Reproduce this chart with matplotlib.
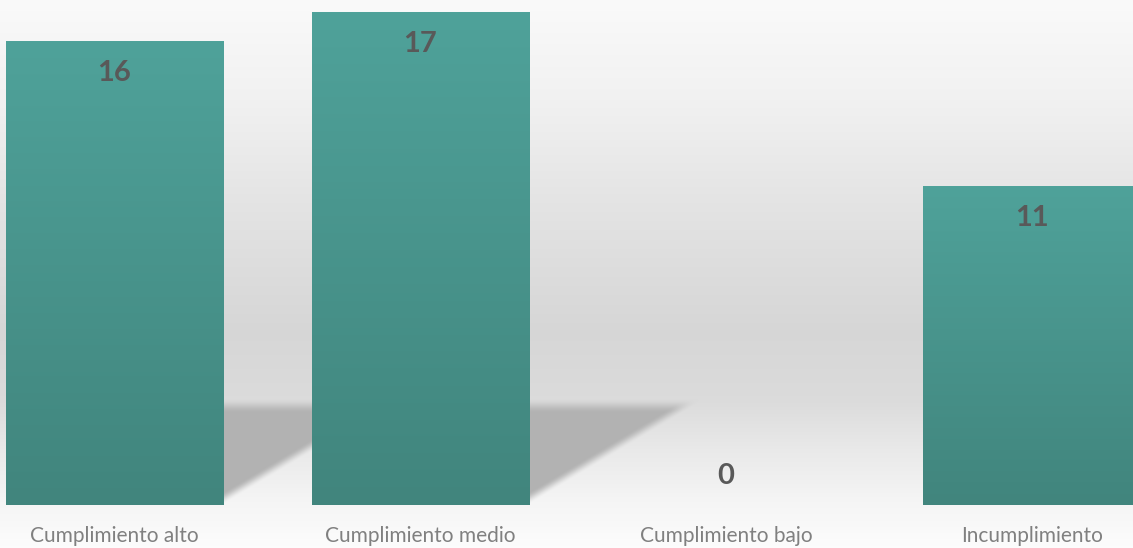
import numpy as np
import matplotlib.pyplot as plt
from matplotlib.colors import LinearSegmentedColormap

categories = ["Cumplimiento alto", "Cumplimiento medio", "Cumplimiento bajo", "Incumplimiento"]
values = [16, 17, 0, 11]

W, H, DPI = 1133, 548, 100
XLIM = (-0.3745, 3.3317)
YLIM = (-1.483, 17.414)
BAR_W = 0.71

fig = plt.figure(figsize=(W / DPI, H / DPI), dpi=DPI)
ax = fig.add_axes([0, 0, 1, 1])
ax.set_xlim(XLIM)
ax.set_ylim(YLIM)
ax.axis("off")

# background: light top, grey band, light floor
rows = np.arange(H)
stops_px = [0, 100, 200, 330, 400, 450, 500, 548]
stops_v = [0.98, 0.945, 0.895, 0.84, 0.86, 0.915, 0.96, 0.99]
shade = np.interp(rows, stops_px, stops_v)
bg = np.repeat(shade[:, None], W, axis=1)

# pixel grid in data coords
xs = XLIM[0] + (np.arange(W) + 0.5) / W * (XLIM[1] - XLIM[0])
ys = YLIM[1] - (rows + 0.5) / H * (YLIM[1] - YLIM[0])
X, Y = np.meshgrid(xs, ys)


def smooth(t):
    t = np.clip(t, 0, 1)
    return t * t * (3 - 2 * t)


# floor shadow behind each bar (slanted to the right)
sh_h, sh_dx = 3.68, 0.585
slope = sh_dx / sh_h
alpha = np.zeros_like(bg)
for i, v in enumerate(values):
    if v <= 0:
        continue
    x0, x1 = i - BAR_W / 2, i + BAR_W / 2
    left = x0 + slope * Y
    right = x1 + slope * Y
    a = (smooth(Y / 0.05) * smooth((sh_h - Y) / 0.5)
         * smooth((X - left) / 0.02) * smooth((right - X) / 0.07))
    alpha = np.maximum(alpha, a)
bg = bg * (1 - alpha) + 0.70 * alpha

ax.imshow(np.dstack([bg] * 3), extent=[*XLIM, *YLIM], aspect="auto",
          zorder=0, interpolation="bilinear")

# bars with vertical gradient
bar_cmap = LinearSegmentedColormap.from_list("teal", ["#41857d", "#4fa29a"])
x = np.arange(len(categories))
bars = ax.bar(x, values, width=BAR_W, color="none", edgecolor="none", zorder=2)
grad = np.linspace(1, 0, 256)[:, None]
for rect, v in zip(bars, values):
    if v <= 0:
        continue
    x0 = rect.get_x()
    ax.imshow(grad, cmap=bar_cmap, extent=[x0, x0 + rect.get_width(), 0, v],
              aspect="auto", zorder=2, clip_path=rect)

# value labels and category labels
for i, v in enumerate(values):
    off = -32 if v > 0 else 29
    ax.annotate(str(v), (i, v), xytext=(0, off), textcoords="offset pixels",
                ha="center", va="center", fontsize=21, fontweight="bold",
                color="#595959", family="Lato", zorder=3)
    ax.annotate(categories[i], (i, 0), xytext=(0, -31), textcoords="offset pixels",
                ha="center", va="center", fontsize=15, color="#808080",
                family="Lato", zorder=3)

ax.set_xlim(XLIM)
ax.set_ylim(YLIM)
fig.savefig("out.png", dpi=DPI)
plt.close(fig)
